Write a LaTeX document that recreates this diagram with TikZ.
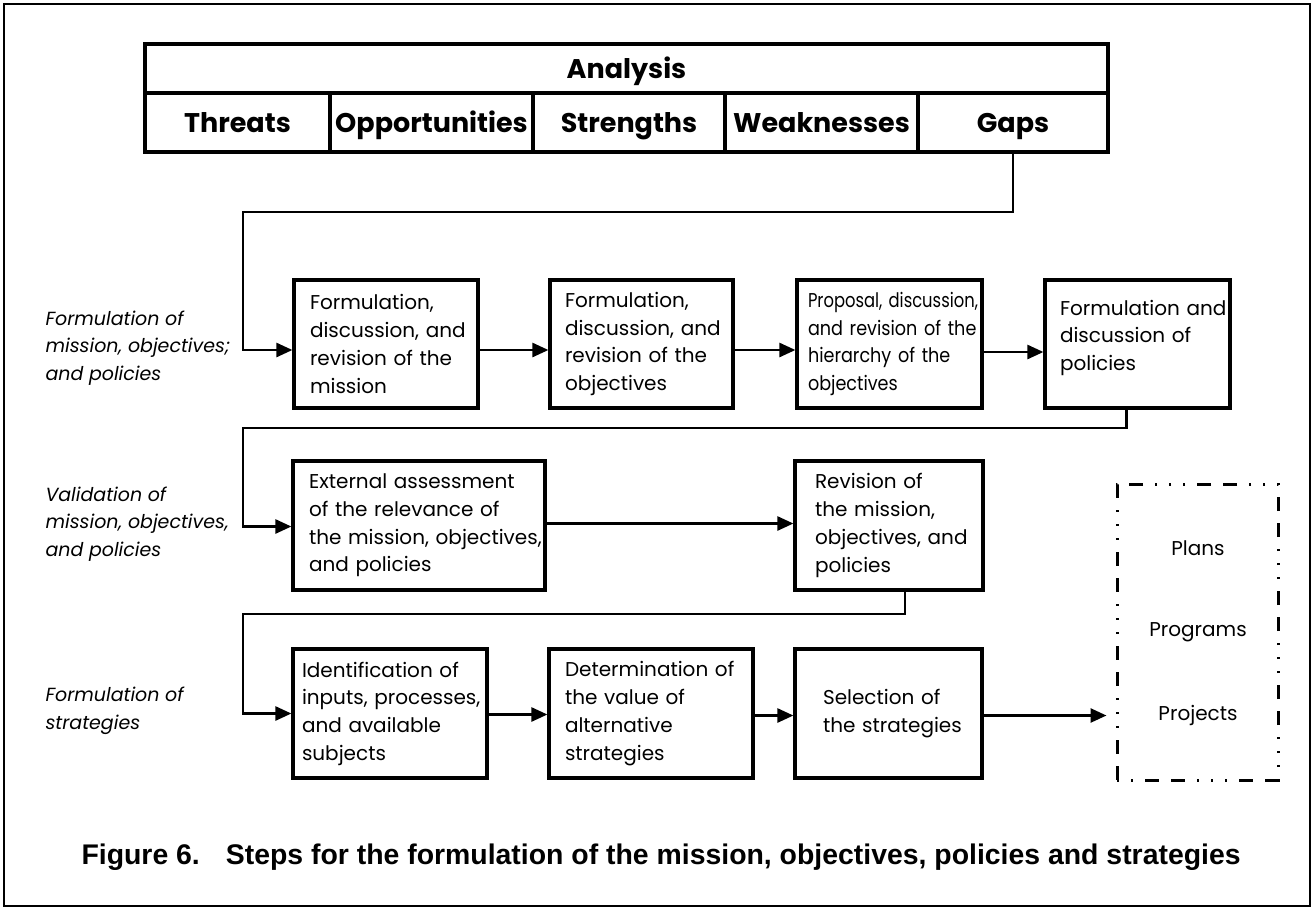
\documentclass[tikz,border=0pt]{standalone}
\usepackage{fontspec}
\usepackage{graphicx}
\setmainfont{Poppins}
\newfontfamily\capfont{Liberation Sans}
\usetikzlibrary{arrows.meta,calc}
% one unbreakable line of box text
\newcommand{\boxline}[1]{\mbox{#1}}

\begin{document}
\begin{tikzpicture}[x=1pt,y=-1pt,
  stepbox/.style={draw,line width=3.2pt,rectangle,inner xsep=16pt,inner ysep=0pt,
    align=left,minimum height=128pt,font=\fontsize{20}{27.7}\selectfont},
  flow/.style={line width=2.6pt,-{Triangle[length=16pt,width=14pt]}},
  cell/.style={draw,line width=3.5pt,inner sep=0pt,minimum height=59pt,
    text height=19pt,text depth=0pt,font=\fontsize{27}{30}\selectfont\bfseries},
  side/.style={anchor=west,align=left,font=\fontsize{19}{27.7}\selectfont\itshape},
  plan/.style={font=\fontsize{20}{24}\selectfont},
  dotbox/.style={draw,line width=3pt,
    dash pattern=on 2pt off 12pt on 2pt off 12pt on 14pt off 12pt on 14pt off 12pt on 2pt off 12pt}
]
\useasboundingbox (0,0) rectangle (1314,911);
\fill[white] (0,0) rectangle (1314,911);
% page frame
\draw[line width=2pt] (4,4) rectangle (1310,906);

% analysis table
\node[cell,minimum width=963pt,minimum height=49pt] (ana) at (626.5,68.5) {Analysis};
\node[cell,minimum width=185pt] (thr) at (237.5,122.5) {Threats};
\node[cell,minimum width=203pt] (opp) at (431.5,122.5) {Opportunities};
\node[cell,minimum width=192pt] (str) at (629,122.5) {Strengths};
\node[cell,minimum width=193pt] (wea) at (821.5,122.5) {Weaknesses};
\node[cell,minimum width=190pt] (gaps) at (1013,122.5) {Gaps};

% row labels
\node[side] (l1) at (42,348) {Formulation of\\mission, objectives;\\and policies};
\node[side] (l2) at (42,524) {Validation of\\mission, objectives,\\and policies};
\node[side] (l3) at (42,711) {Formulation of\\strategies};

% first row
\node[stepbox,text width=152pt] (m1) at (386,344)
  {\boxline{Formulation,}\\\boxline{discussion, and}\\\boxline{revision of the}\\\boxline{mission}};
\node[stepbox,inner xsep=15pt,text width=153pt] (m2) at (641.5,344)
  {\boxline{Formulation,}\\\boxline{discussion, and}\\\boxline{revision of the}\\\boxline{objectives}};
\node[stepbox,inner xsep=11pt,text width=163pt,
  font=\fontsize{20}{27.7}\selectfont\addfontfeatures{FakeStretch=0.88}] (m3) at (889.5,344)
  {\boxline{\scalebox{0.93}[1]{Proposal, discussion,}}\\\boxline{and revision of the}\\\boxline{hierarchy of the}\\\boxline{objectives}};
\node[stepbox,inner xsep=15pt,text width=155pt] (m4) at (1137.5,344)
  {\boxline{Formulation and}\\\boxline{discussion of}\\\boxline{policies}\\[-10pt]\mbox{}};

% second row
\node[stepbox,text width=220pt,minimum height=129pt] (m5) at (419,525.5)
  {\boxline{External assessment}\\\boxline{of the relevance of}\\\boxline{the mission, objectives,}\\\boxline{and policies}};
\node[stepbox,inner xsep=20pt,text width=148pt,minimum height=129pt] (m6) at (889,525.5)
  {\boxline{Revision of}\\\boxline{the mission,}\\\boxline{objectives, and}\\\boxline{policies}};

% third row
\node[stepbox,inner xsep=9pt,text width=176pt,minimum height=129pt] (m7) at (390,713.5)
  {\boxline{Identification of}\\\boxline{inputs, processes,}\\\boxline{and available}\\\boxline{subjects}};
\node[stepbox,text width=172pt,minimum height=129pt] (m8) at (651,713.5)
  {\boxline{Determination of}\\\boxline{the value of}\\\boxline{alternative}\\\boxline{strategies}};
\node[stepbox,inner xsep=28pt,text width=131pt,minimum height=129pt] (m9) at (888.5,713.5)
  {\boxline{Selection of}\\\boxline{the strategies}};

% outputs
\node[dotbox,minimum width=161pt,minimum height=296pt] (out) at (1197.5,632) {};
\node[plan] (plans) at (1198,548) {Plans};
\node[plan] (progs) at (1198,632) {Programs};
\node[plan] (projs) at (1198,715) {Projects};

% connectors
\coordinate (k1) at (243,212);
\coordinate (k2) at (243,428);
\coordinate (k3) at (243,614);
\draw[flow] (gaps.south) |- (k1) |- ($(m1.west)+(0,6)$);
\draw[flow] ($(m1.east)+(0,6)$) -- ($(m2.west)+(0,6)$);
\draw[flow] ($(m2.east)+(0,6)$) -- ($(m3.west)+(0,6)$);
\draw[flow] ($(m3.east)+(0,8)$) -- ($(m4.west)+(0,8)$);
\draw[flow] ($(m4.south)+(-11,0)$) |- (k2) |- ($(m5.west)+(0,1)$);
\draw[flow] ($(m5.east)+(0,-2)$) -- ($(m6.west)+(0,-2)$);
\draw[flow] ($(m6.south)+(16,0)$) |- (k3) |- (m7.west);
\draw[flow] ($(m7.east)+(0,1)$) -- ($(m8.west)+(0,1)$);
\draw[flow] ($(m8.east)+(0,2)$) -- ($(m9.west)+(0,2)$);
\draw[flow] ($(m9.east)+(0,2)$) -- ($(out.west |- m9.east)+(-9,2)$);

% caption
\node[anchor=west,font=\capfont\fontsize{28.4}{32}\selectfont\bfseries] (cap) at (78,857)
  {Figure 6.\hspace{26pt}Steps for the formulation of the mission, objectives, policies and strategies};
\end{tikzpicture}
\end{document}
